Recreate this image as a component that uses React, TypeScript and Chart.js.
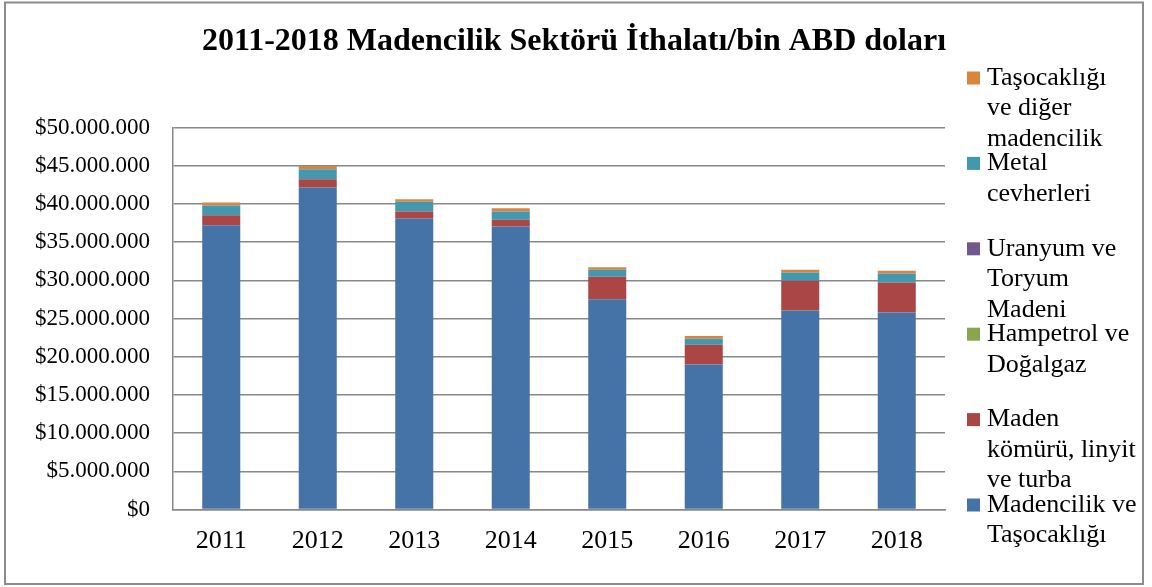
import React, { useEffect, useRef } from 'react';
import { Chart, registerables } from 'chart.js';

Chart.register(...registerables);

const FONT = "'Liberation Serif', 'Times New Roman', serif";

const chartTitle = '2011-2018 Madencilik Sektörü İthalatı/bin ABD doları';

const years = ['2011', '2012', '2013', '2014', '2015', '2016', '2017', '2018'];

const madencilikVeTasocakligi = [37240000, 42170000, 38120000, 37070000, 27550000, 19000000, 26070000, 25810000];
const madenKomuru = [1310000, 1090000, 910000, 860000, 2920000, 2570000, 3880000, 3930000];
const hampetrolVeDogalgaz = [0, 0, 0, 0, 0, 0, 0, 0];
const uranyumVeToryum = [0, 0, 0, 0, 0, 0, 0, 0];
const metalCevherleri = [1270000, 1310000, 1260000, 1100000, 920000, 790000, 1100000, 1180000];
const tasocakligiVeDiger = [400000, 430000, 350000, 430000, 350000, 350000, 340000, 340000];

const seriesNames = [
  'Madencilik ve Taşocaklığı',
  'Maden kömürü, linyit ve turba',
  'Hampetrol ve Doğalgaz',
  'Uranyum ve Toryum Madeni',
  'Metal cevherleri',
  'Taşocaklığı ve diğer madencilik',
];

const legendLines = [
  ['Madencilik ve', 'Taşocaklığı'],
  ['Maden', 'kömürü, linyit', 've turba'],
  ['Hampetrol ve', 'Doğalgaz'],
  ['Uranyum ve', 'Toryum', 'Madeni'],
  ['Metal', 'cevherleri'],
  ['Taşocaklığı', 've diğer', 'madencilik'],
];

const seriesColors = ['#4572A7', '#AA4643', '#89A54E', '#71588F', '#4198AF', '#DB843D'];

const yTickStep = 5000000;
const yMax = 50000000;

function formatDollar(v: number): string {
  return '$' + String(Math.round(v)).replace(/\B(?=(\d{3})+(?!\d))/g, '.');
}

export default function App() {
  const ref = useRef<HTMLCanvasElement>(null);

  useEffect(() => {
    document.body.style.margin = '0';
    const canvas = ref.current;
    if (!canvas) return;

    const seriesValues = [
      madencilikVeTasocakligi,
      madenKomuru,
      hampetrolVeDogalgaz,
      uranyumVeToryum,
      metalCevherleri,
      tasocakligiVeDiger,
    ];

    const frame = {
      id: 'frame',
      beforeDraw(chart: any) {
        const ctx = chart.ctx;
        ctx.save();
        ctx.fillStyle = '#ffffff';
        ctx.fillRect(0, 0, chart.width, chart.height);
        ctx.strokeStyle = '#8c8c8c';
        ctx.lineWidth = 2;
        ctx.strokeRect(5, 2.5, 1138, 581.5);
        ctx.restore();
      },
    };

    const sideLegend = {
      id: 'sideLegend',
      afterDraw(chart: any) {
        const ctx = chart.ctx;
        const ds = chart.data.datasets;
        const boxX = 967;
        const textX = 987;
        const firstY = 78;
        const slot = 85.4;
        const lineH = 30.5;
        ctx.save();
        ctx.font = `26px ${FONT}`;
        ctx.textBaseline = 'middle';
        ctx.textAlign = 'left';
        for (let k = 0; k < ds.length; k++) {
          const i = ds.length - 1 - k;
          const y = firstY + k * slot;
          ctx.fillStyle = ds[i].backgroundColor;
          ctx.fillRect(boxX, y - 6.5, 13, 13);
          ctx.fillStyle = '#000000';
          const lines = legendLines[i];
          for (let j = 0; j < lines.length; j++) {
            ctx.fillText(lines[j], textX, y + j * lineH);
          }
        }
        ctx.restore();
      },
    };

    const chart = new Chart(canvas, {
      type: 'bar',
      data: {
        labels: years,
        datasets: seriesNames.map((name, i) => ({
          label: name,
          data: seriesValues[i],
          backgroundColor: seriesColors[i],
          borderWidth: 0,
          barPercentage: 0.394,
          categoryPercentage: 1,
        })),
      },
      options: {
        responsive: false,
        animation: false,
        devicePixelRatio: 1,
        layout: { padding: { left: 0, right: 4, top: 0, bottom: 0 } },
        plugins: {
          legend: { display: false },
          tooltip: { enabled: false },
          title: {
            display: true,
            text: chartTitle,
            color: '#000000',
            font: { family: FONT, size: 32, weight: 'bold' },
            padding: { top: 22.8, bottom: 66.5 },
          },
        },
        scales: {
          x: {
            stacked: true,
            grid: { display: false, drawTicks: false },
            border: { display: true, color: '#888888', width: 1.5 },
            ticks: { color: '#000000', font: { family: FONT, size: 26 }, padding: 16 },
            afterFit: (s: any) => {
              s.height = 77.5;
            },
          },
          y: {
            stacked: true,
            min: 0,
            max: yMax,
            grid: { color: '#888888', lineWidth: 1.5, drawTicks: false },
            border: { display: true, color: '#888888', width: 1.5 },
            ticks: {
              stepSize: yTickStep,
              color: '#000000',
              font: { family: FONT, size: 23 },
              padding: 23,
              callback: (v: any) => formatDollar(Number(v)),
            },
            afterFit: (s: any) => {
              s.width = 173;
            },
          },
          y2: {
            position: 'right',
            display: true,
            grid: { display: false, drawTicks: false },
            border: { display: false },
            ticks: { display: false },
            afterFit: (s: any) => {
              s.width = 203;
            },
          },
        },
      } as any,
      plugins: [frame, sideLegend],
    });

    return () => chart.destroy();
  }, []);

  return <canvas ref={ref} width={1152} height={587} style={{ display: 'block' }} />;
}
